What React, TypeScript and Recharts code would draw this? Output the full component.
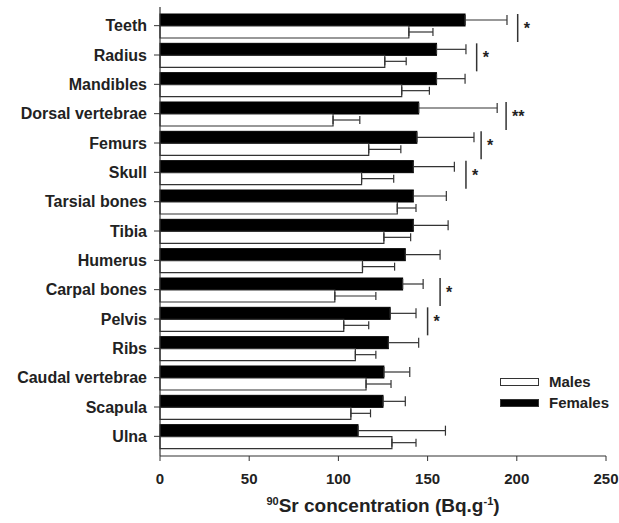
import React from "react";
import { BarChart, Bar, XAxis, YAxis, ErrorBar, Legend } from "recharts";

const categories = [
  "Teeth", "Radius", "Mandibles", "Dorsal vertebrae", "Femurs", "Skull",
  "Tarsial bones", "Tibia", "Humerus", "Carpal bones", "Pelvis", "Ribs",
  "Caudal vertebrae", "Scapula", "Ulna",
];
const femaleValues = [171, 155, 155, 145, 144, 142, 142, 142, 137.5, 136, 129, 128, 125.5, 125, 111];
const femaleErrors = [23.5, 16.5, 16, 44, 32, 23, 18.5, 19.5, 19.5, 11.5, 14.5, 17, 14.5, 12.5, 49];
const maleValues = [139.5, 126, 135.5, 97, 117, 113, 133, 125.5, 113.5, 98, 103, 109.5, 115.5, 107, 130];
const maleErrors = [13.5, 12, 15.5, 15, 18, 18, 10.5, 15, 18, 23, 14, 11.5, 14, 11, 13.5];
const sigPositions = [200.5, 177.5, null, 194, 180, 171.5, null, null, null, 157, 150, null, null, null, null];
const sigLabels = ["*", "*", "", "**", "*", "*", "", "", "", "*", "*", "", "", "", ""];
const xTicks = [0, 50, 100, 150, 200, 250];
const seriesNames = { male: "Males", female: "Females" };

const data = categories.map((name, i) => ({
  name,
  female: femaleValues[i],
  femaleErr: [0, femaleErrors[i]],
  male: maleValues[i],
  maleErr: [0, maleErrors[i]],
  sig: sigPositions[i],
  sigLabel: sigLabels[i],
}));

const FONT = "'Liberation Sans', Arial, Helvetica, sans-serif";
const INK = "#222";

const FemaleShape = (props: any) => {
  const { x, y, width, height, payload } = props;
  const pxPerUnit = payload.female ? width / payload.female : 0;
  const hasSig = payload.sig != null;
  const sx = x + (payload.sig ?? 0) * pxPerUnit;
  return (
    <g>
      <rect x={x} y={y} width={width} height={height} fill="#000" stroke="#000" strokeWidth={1} />
      {hasSig && (
        <g>
          <line x1={sx} x2={sx} y1={y} y2={y + 28} stroke="#333" strokeWidth={1.5} />
          <text x={sx + 6} y={y + 20} fontFamily={FONT} fontWeight="bold" fontSize={16} fill={INK}>
            {payload.sigLabel}
          </text>
        </g>
      )}
    </g>
  );
};

const renderLegend = () => {
  const items = [
    { label: seriesNames.male, fill: "#fff" },
    { label: seriesNames.female, fill: "#000" },
  ];
  return (
    <div style={{ fontFamily: FONT, fontWeight: "bold", fontSize: 15, color: INK }}>
      {items.map((it) => (
        <div key={it.label} style={{ display: "flex", alignItems: "center", height: 21 }}>
          <div style={{ width: 37, height: 6, border: "1px solid #333", background: it.fill, marginRight: 10 }} />
          <span>{it.label}</span>
        </div>
      ))}
    </div>
  );
};

const XTitle = (props: any) => {
  const vb = props.viewBox || {};
  const cx = vb.x + vb.width / 2;
  const by = vb.y + 56;
  return (
    <text x={cx} y={by} textAnchor="middle" fontFamily={FONT} fontWeight="bold" fontSize={19} fill={INK}>
      <tspan fontSize={11} dy={-7}>90</tspan>
      <tspan dy={7}>Sr concentration (Bq.g</tspan>
      <tspan fontSize={11} dy={-7}>-1</tspan>
      <tspan dy={7}>)</tspan>
    </text>
  );
};

export default function App() {
  return (
    <div style={{ position: "absolute", left: 0, top: 0, background: "#fff" }}>
      <BarChart
        width={619}
        height={523}
        data={data}
        layout="vertical"
        margin={{ top: 7, right: 13, bottom: 0, left: 0 }}
        barCategoryGap={3}
        barGap={0}
      >
        <XAxis
          type="number"
          domain={[0, 250]}
          ticks={xTicks}
          height={67}
          axisLine={{ stroke: "#333", strokeWidth: 1.2 }}
          tickLine={{ stroke: "#333" }}
          tickSize={5}
          tickMargin={12}
          tick={{ fontFamily: FONT, fontWeight: "bold", fontSize: 15, fill: INK }}
          label={<XTitle />}
        />
        <YAxis
          type="category"
          dataKey="name"
          width={160}
          padding={{ top: 4, bottom: 5 }}
          axisLine={{ stroke: "#333", strokeWidth: 1.2 }}
          tickLine={{ stroke: "#333" }}
          tickSize={6}
          tickMargin={7}
          interval={0}
          tick={{ fontFamily: FONT, fontWeight: "bold", fontSize: 16, fill: INK }}
        />
        <Legend
          content={renderLegend}
          layout="horizontal"
          align="center"
          verticalAlign="middle"
          wrapperStyle={{ left: 500, top: 371, width: "auto" }}
        />
        <Bar dataKey="female" name={seriesNames.female} fill="#000" isAnimationActive={false} shape={<FemaleShape />}>
          <ErrorBar dataKey="femaleErr" direction="x" width={5} stroke="#333" strokeWidth={1.2} isAnimationActive={false} />
        </Bar>
        <Bar dataKey="male" name={seriesNames.male} fill="#fff" stroke="#333" strokeWidth={1.2} isAnimationActive={false}>
          <ErrorBar dataKey="maleErr" direction="x" width={4} stroke="#333" strokeWidth={1.2} isAnimationActive={false} />
        </Bar>
      </BarChart>
    </div>
  );
}
